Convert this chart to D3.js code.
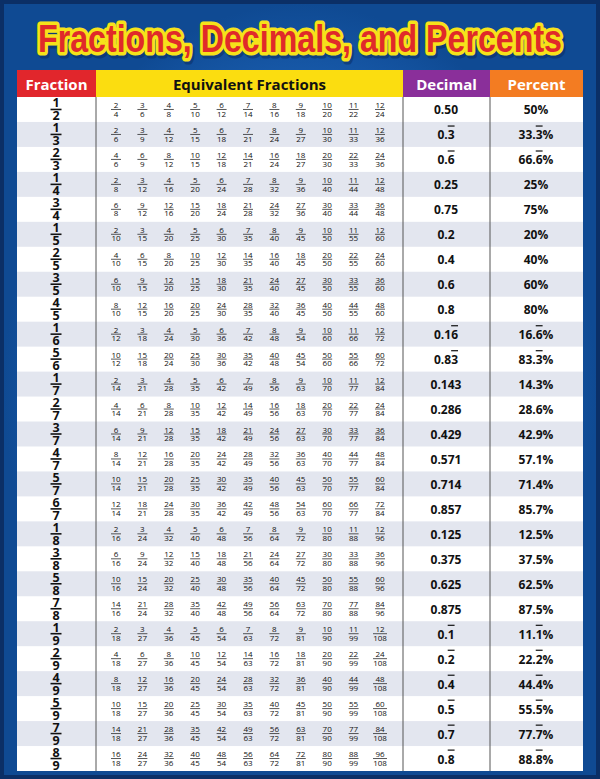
<!DOCTYPE html>
<html><head><meta charset="utf-8">
<script src="https://cdn.jsdelivr.net/npm/d3@7"></script>
<style>body{margin:0;background:#1b5fb2}svg{display:block}</style>
</head><body><svg id="chart" width="600" height="779"></svg>
<script>
const numerators   = [1,1,2,1,3,1,2,3,4,1,5,1,2,3,4,5,6,1,3,5,7,1,2,4,5,7,8];
const denominators = [2,3,3,4,4,5,5,5,5,6,6,7,7,7,7,7,7,8,8,8,8,9,9,9,9,9,9];
const multipliers  = [2,3,4,5,6,7,8,9,10,11,12];
// [digits] marks the repeating part
const decimals = ["0.50","0.[3]","0.[6]","0.25","0.75","0.2","0.4","0.6","0.8","0.1[6]","0.8[3]",
  "0.143","0.286","0.429","0.571","0.714","0.857","0.125","0.375","0.625","0.875",
  "0.[1]","0.[2]","0.[4]","0.[5]","0.[7]","0.[8]"];
const percents = ["50%","33.[3]%","66.[6]%","25%","75%","20%","40%","60%","80%","16.[6]%","83.[3]%",
  "14.3%","28.6%","42.9%","57.1%","71.4%","85.7%","12.5%","37.5%","62.5%","87.5%",
  "11.[1]%","22.[2]%","44.[4]%","55.[5]%","77.[7]%","88.[8]%"];
const headers = ["Fraction","Equivalent Fractions","Decimal","Percent"];

const svg = d3.select("#chart");
const W = 600, H = 779;
const defs = svg.append("defs");
const bg = defs.append("radialGradient").attr("id","bg");
bg.append("stop").attr("offset","60%").attr("stop-color","#2069bf");
bg.append("stop").attr("offset","100%").attr("stop-color","#0f4a93");
svg.append("rect").attr("width",W).attr("height",H).attr("fill","#0b2f66");
svg.append("rect").attr("x",4).attr("y",4).attr("width",W-8).attr("height",H-8).attr("fill","url(#bg)");

// title: shadow, yellow outline, red fill
const tg = svg.append("g").attr("font-family","Liberation Sans Narrow, Arial Narrow, sans-serif")
  .attr("font-weight","bold").attr("font-size",38).attr("text-anchor","middle");
const titleText = "Fractions, Decimals, and Percents";
const layers = [
  {dx:2, dy:3, fill:"#0a2c5e", stroke:"#0a2c5e", sw:7, op:0.5},
  {dx:0, dy:0, fill:"none", stroke:"#f6e21a", sw:7, op:1},
  {dx:0, dy:0, fill:"#e02a2a", stroke:"none", sw:0, op:1}
];
layers.forEach(l=>tg.append("text").attr("x",W/2+l.dx).attr("y",52+l.dy)
  .attr("textLength",524).attr("lengthAdjust","spacingAndGlyphs")
  .attr("fill",l.fill).attr("stroke",l.stroke).attr("stroke-width",l.sw)
  .attr("stroke-linejoin","round").attr("opacity",l.op).text(titleText));

// table geometry
const colEdges = [17,96,403,490,583];
const headTop = 70, headBot = 97, tableBot = 771;
const y = d3.scaleBand().domain(d3.range(numerators.length)).range([headBot, tableBot]);
const xEq = d3.scalePoint().domain(multipliers).range([116,380]);

const g = svg.append("g");
g.append("rect").attr("x",colEdges[0]).attr("y",headBot).attr("width",colEdges[4]-colEdges[0])
  .attr("height",tableBot-headBot).attr("fill","#fff");
g.selectAll("rect.row").data(d3.range(numerators.length).filter(i=>i%2==1)).join("rect")
  .attr("x",colEdges[0]).attr("y",i=>y(i)).attr("width",colEdges[4]-colEdges[0])
  .attr("height",y.bandwidth()).attr("fill","#e3e6ef");

const headColors = ["#e1262c","#fbdd10","#8a2f9a","#f37c22"];
headers.forEach((h,i)=>{
  g.append("rect").attr("x",colEdges[i]).attr("y",headTop).attr("width",colEdges[i+1]-colEdges[i])
    .attr("height",headBot-headTop).attr("fill",headColors[i]);
  g.append("text").attr("x",(colEdges[i]+colEdges[i+1])/2).attr("y",(headTop+headBot)/2+6)
    .attr("text-anchor","middle").attr("font-family","Open Sans, sans-serif").attr("font-weight","bold")
    .attr("font-size",15).attr("fill",i==1?"#111":"#fff").text(h);
});
[96,403,490].forEach(x=>g.append("line").attr("x1",x).attr("x2",x).attr("y1",headBot).attr("y2",tableBot)
  .attr("stroke","#555").attr("stroke-width",1));

function frac(sel, x, cy, n, d, size, bold, w){
  const up = bold ? 2 : 1.5;
  sel.append("text").attr("x",x).attr("y",cy-up).attr("text-anchor","middle").attr("font-size",size)
    .attr("font-weight",bold?"bold":"normal").attr("font-family","Open Sans, sans-serif").attr("fill","#111").text(n);
  sel.append("text").attr("x",x).attr("y",cy+size*0.8+up/2).attr("text-anchor","middle").attr("font-size",size)
    .attr("font-weight",bold?"bold":"normal").attr("font-family","Open Sans, sans-serif").attr("fill","#111").text(d);
  sel.append("line").attr("x1",x-w/2).attr("x2",x+w/2).attr("y1",cy).attr("y2",cy)
    .attr("stroke","#111").attr("stroke-width",bold?1.6:0.7);
}
function repText(sel, x, cy, s){
  const t = sel.append("text").attr("x",x).attr("y",cy+5).attr("text-anchor","middle")
    .attr("font-family","Open Sans, sans-serif").attr("font-weight","bold").attr("font-size",12).attr("fill","#111");
  s.split(/(\[[^\]]*\])/).filter(p=>p).forEach(p=>{
    const rep = p.startsWith("[");
    t.append("tspan").text(rep?p.slice(1,-1):p).style("text-decoration",rep?"overline":null);
  });
}

numerators.forEach((n,i)=>{
  const d = denominators[i], cy = y(i)+y.bandwidth()/2, row = g.append("g");
  frac(row, 56, cy, n, d, 12.5, true, 11);
  multipliers.forEach(k=>{
    const dd = String(d*k);
    frac(row, xEq(k), cy, n*k, dd, 8, false, dd.length>2?14:10);
  });
  repText(row, 446, cy, decimals[i]);
  repText(row, 536, cy, percents[i]);
});
</script></body></html>
